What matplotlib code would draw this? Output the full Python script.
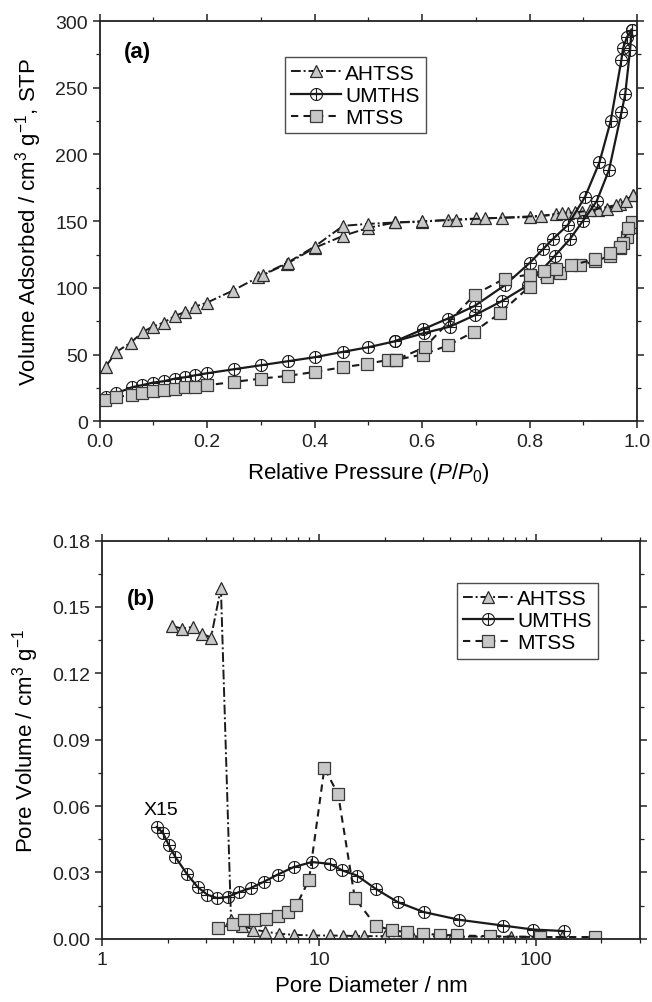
import matplotlib
matplotlib.use('Agg')
import matplotlib.pyplot as plt
from matplotlib.ticker import (MultipleLocator, LogLocator, NullFormatter, FixedLocator,
                               FormatStrFormatter, FuncFormatter)

plt.rcParams['font.family'] = ['Liberation Sans', 'DejaVu Sans']
plt.rcParams['mathtext.fontset'] = 'custom'
plt.rcParams['mathtext.rm'] = 'Liberation Sans'
plt.rcParams['mathtext.it'] = 'Liberation Sans:italic'

# ---- (a) N2 isotherms ----
ahtss_ads_p = [0.011, 0.031, 0.058, 0.080, 0.099, 0.119, 0.140, 0.159, 0.178, 0.200, 0.248, 0.295,
               0.348, 0.400, 0.453, 0.500, 0.550, 0.599, 0.649, 0.701, 0.748, 0.801, 0.850, 0.872,
               0.897, 0.928, 0.944, 0.968, 0.993]
ahtss_ads_v = [41, 52, 59, 67, 71, 74, 79, 82, 86, 89, 98, 108,
               118, 130, 139, 145, 149, 149.5, 151, 152, 152.5, 153, 155, 156,
               157, 158, 159, 163, 169.5]
ahtss_des_p = [0.993, 0.980, 0.960, 0.912, 0.885, 0.860, 0.822, 0.717, 0.664, 0.600, 0.550,
               0.500, 0.453, 0.400, 0.350, 0.304]
ahtss_des_v = [169.5, 165, 162, 158, 156.5, 156, 154, 152, 151, 150, 149,
               148, 146.5, 131, 119, 110]

umths_ads_p = [0.011, 0.031, 0.060, 0.078, 0.099, 0.119, 0.140, 0.159, 0.178, 0.200, 0.250, 0.300,
               0.350, 0.400, 0.452, 0.500, 0.550, 0.603, 0.652, 0.698, 0.748, 0.797, 0.847, 0.875,
               0.899, 0.925, 0.948, 0.971, 0.978, 0.987, 0.990]
umths_ads_v = [18, 21, 25.5, 27, 29, 30, 32, 33, 34.5, 36, 39, 42,
               45, 48, 52, 55.5, 60, 66, 71, 79.5, 90, 102, 124, 136.5,
               150, 165, 188.5, 231.5, 245, 278, 293.5]
umths_des_p = [0.990, 0.981, 0.974, 0.971, 0.951, 0.930, 0.903, 0.871, 0.843, 0.825, 0.801,
               0.754, 0.698, 0.648, 0.602, 0.550]
umths_des_v = [293.5, 287.7, 279.5, 271, 225, 194, 168, 147, 136.5, 129, 119,
               102, 86.5, 77, 69, 60]

mtss_ads_p = [0.009, 0.031, 0.060, 0.078, 0.099, 0.119, 0.140, 0.159, 0.178, 0.200, 0.250, 0.300,
              0.350, 0.400, 0.452, 0.497, 0.537, 0.551, 0.601, 0.649, 0.696, 0.745, 0.800, 0.832,
              0.857, 0.894, 0.922, 0.950, 0.968, 0.981, 0.990]
mtss_ads_v = [16, 18, 20, 21.5, 22.7, 23.5, 24, 25.5, 26, 27, 29.5, 32,
              34, 37, 40.5, 43, 46, 46, 50, 57, 67, 81, 101, 108.5,
              111, 117, 120, 124, 130, 138, 146]
mtss_des_p = [0.990, 0.984, 0.974, 0.968, 0.950, 0.922, 0.878, 0.850, 0.826, 0.800, 0.754,
              0.698, 0.605, 0.551]
mtss_des_v = [149, 145, 134, 131, 126, 121.5, 117, 114.5, 113, 110, 107,
              95, 55.5, 46]

# ---- (b) pore size distributions ----
ahtss_d = [2.09, 2.34, 2.61, 2.87, 3.17, 3.52, 3.92, 4.41, 4.97, 5.63, 6.49, 7.68, 9.37,
           11.2, 12.9, 14.6, 16.1, 20.2, 26.9, 41.1, 76.6, 131]
ahtss_pv = [0.1414, 0.1402, 0.1410, 0.1380, 0.1362, 0.1586, 0.0083, 0.0060, 0.0042, 0.0033,
            0.0023, 0.0018, 0.0015, 0.0015, 0.0014, 0.0013, 0.0012, 0.0012, 0.0011, 0.0010,
            0.0009, 0.0008]

umths_d = [1.78, 1.90, 2.02, 2.17, 2.45, 2.75, 3.05, 3.39, 3.78, 4.26, 4.82, 5.58, 6.42, 7.61,
           9.25, 11.19, 12.78, 14.92, 18.2, 23.0, 30.3, 44.2, 70.2, 97, 134.7]
umths_pv = [0.0505, 0.048, 0.0425, 0.037, 0.0294, 0.0234, 0.0199, 0.0184, 0.0189, 0.0211,
            0.0229, 0.0259, 0.029, 0.0324, 0.0347, 0.0339, 0.0309, 0.0286, 0.0226, 0.0166,
            0.0121, 0.0086, 0.0060, 0.0042, 0.0035]

mtss_d = [3.43, 4.0, 4.51, 5.08, 5.68, 6.42, 7.18, 7.85, 8.97, 10.56, 12.22, 14.59, 18.2,
          21.7, 25.4, 30, 36.2, 43.2, 61, 104.7, 186]
mtss_pv = [0.0048, 0.0068, 0.0083, 0.0083, 0.009, 0.0105, 0.0121, 0.0151, 0.0267, 0.0772,
           0.0653, 0.0184, 0.006, 0.0038, 0.003, 0.0023, 0.0018, 0.0015, 0.0012, 0.0008, 0.0008]

tri = dict(color='#1a1a1a', linestyle=(0, (5, 1.5, 1, 1.5)), lw=1.4, marker='^', ms=9,
           mfc='#c8c8c8', mec='#2a2a2a', mew=0.9)
circ = dict(color='#1a1a1a', linestyle='-', lw=1.6, marker='$\\oplus$', ms=9,
            mfc='none', mec='#1a1a1a', mew=0.4)
sq = dict(color='#1a1a1a', linestyle=(0, (3.5, 2.5)), lw=1.5, marker='s', ms=8,
          mfc='#c8c8c8', mec='#3a3a3a', mew=0.9)

fig = plt.figure(figsize=(6.52, 10.03), dpi=100)
ax1 = fig.add_axes([0.153, 0.579, 0.824, 0.399])
ax2 = fig.add_axes([0.157, 0.063, 0.824, 0.397])

ax1.plot(ahtss_ads_p, ahtss_ads_v, label='AHTSS', **tri)
ax1.plot(ahtss_des_p, ahtss_des_v, **tri)
ax1.plot(umths_ads_p, umths_ads_v, label='UMTHS', **circ)
ax1.plot(umths_des_p, umths_des_v, **circ)
ax1.plot(mtss_ads_p, mtss_ads_v, label='MTSS', **sq)
ax1.plot(mtss_des_p, mtss_des_v, **sq)

ax1.set_xlim(0, 1.0)
ax1.set_ylim(0, 300)
ax1.xaxis.set_major_locator(MultipleLocator(0.2))
ax1.xaxis.set_minor_locator(MultipleLocator(0.1))
ax1.yaxis.set_major_locator(MultipleLocator(50))
ax1.yaxis.set_minor_locator(MultipleLocator(25))
ax1.xaxis.set_major_formatter(FormatStrFormatter('%.1f'))
ax1.set_xlabel(r'Relative Pressure ($\mathit{P}$/$\mathit{P}_{\mathregular{0}}$)', fontsize=16, labelpad=7)
ax1.set_ylabel(r'Volume Adsorbed / cm$^{\mathregular{3}}$ g$^{\mathregular{-1}}$, STP', fontsize=16, labelpad=8)
ax1.text(0.045, 0.95, '(a)', transform=ax1.transAxes, fontsize=16, fontweight='bold', va='top')
leg1 = ax1.legend(loc='upper left', bbox_to_anchor=(0.325, 0.935), fontsize=15, frameon=True,
                  fancybox=False, edgecolor='#222222', handlelength=2.4, handletextpad=0.2,
                  labelspacing=0.15, borderpad=0.3)
leg1.get_frame().set_linewidth(1.0)

ax2.plot(ahtss_d, ahtss_pv, label='AHTSS', **tri)
ax2.plot(umths_d, umths_pv, label='UMTHS', **circ)
ax2.plot(mtss_d, mtss_pv, label='MTSS', **sq)
ax2.set_xscale('log')
ax2.set_xlim(1, 300)
ax2.set_ylim(0, 0.18)
ax2.xaxis.set_major_locator(FixedLocator([1, 10, 100]))
ax2.xaxis.set_major_formatter(FuncFormatter(lambda v, p: '%g' % v))
ax2.xaxis.set_minor_locator(LogLocator(base=10, subs=range(2, 10)))
ax2.xaxis.set_minor_formatter(NullFormatter())
ax2.yaxis.set_major_locator(MultipleLocator(0.03))
ax2.yaxis.set_minor_locator(MultipleLocator(0.015))
ax2.yaxis.set_major_formatter(FormatStrFormatter('%.2f'))
ax2.set_xlabel('Pore Diameter / nm', fontsize=16, labelpad=5)
ax2.set_ylabel(r'Pore Volume / cm$^{\mathregular{3}}$ g$^{\mathregular{-1}}$', fontsize=16, labelpad=8)
ax2.text(0.045, 0.88, '(b)', transform=ax2.transAxes, fontsize=16, fontweight='bold', va='top')
ax2.text(1.55, 0.0585, 'X15', fontsize=14, va='center', ha='left')
leg2 = ax2.legend(loc='upper left', bbox_to_anchor=(0.64, 0.92), fontsize=15, frameon=True,
                  fancybox=False, edgecolor='#222222', handlelength=2.4, handletextpad=0.2,
                  labelspacing=0.15, borderpad=0.3)
leg2.get_frame().set_linewidth(1.0)

for ax in (ax1, ax2):
    for s in ax.spines.values():
        s.set_linewidth(1.3)
        s.set_color('#222222')
    ax.tick_params(which='both', direction='out', top=True, right=True, labelsize=14, colors='#222222')
    ax.tick_params(which='major', length=5, width=1.1)
    ax.tick_params(which='minor', length=3, width=0.9)

plt.savefig('out.png', dpi=100)
